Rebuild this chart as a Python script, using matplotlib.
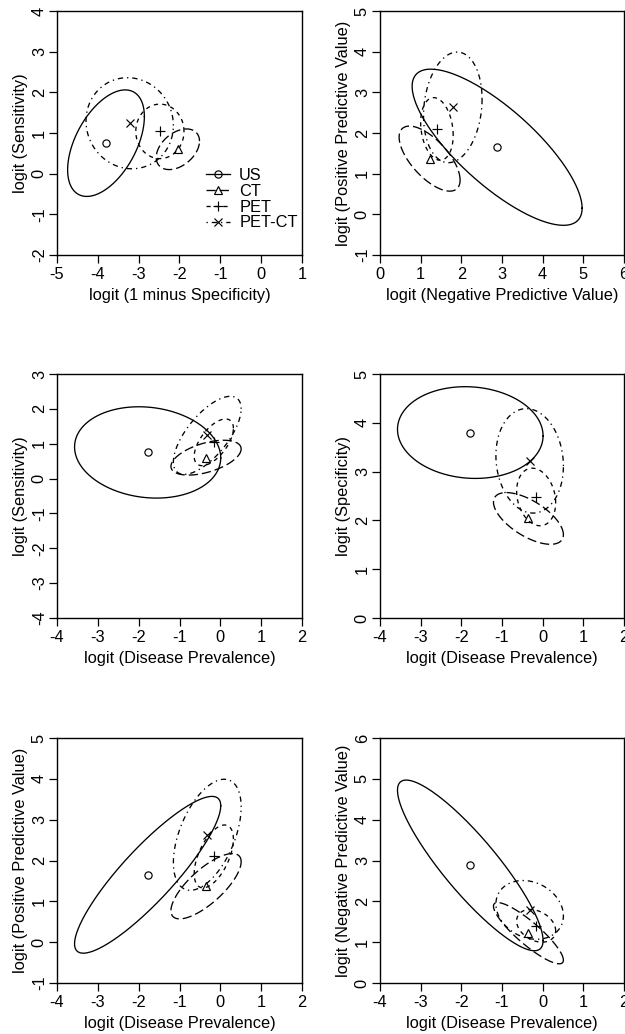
"""Bivariate confidence ellipses for US, CT, PET and PET-CT on the logit scale."""
import numpy as np
import matplotlib
matplotlib.use("Agg")
import matplotlib.pyplot as plt
from matplotlib.lines import Line2D

plt.rcParams['font.family'] = ['Liberation Sans', 'DejaVu Sans']
plt.rcParams['font.size'] = 11.8

# ------------------------------------------------------------
# Summary estimates (logit scale): point estimate and half-range of the
# 95% region along each axis, plus the correlation for each pair plotted
# ------------------------------------------------------------
tests = ['US', 'CT', 'PET', 'PET-CT']

sens_mid = [0.75, 0.60, 1.04, 1.24]
sens_half = [1.31, 0.50, 0.67, 1.12]
spec_mid = [3.80, 2.04, 2.48, 3.22]
spec_half = [0.94, 0.53, 0.59, 1.07]
prev_mid = [-1.78, -0.35, -0.16, -0.32]
prev_half = [1.79, 0.86, 0.48, 0.83]
ppv_mid = [1.65, 1.37, 2.10, 2.63]
ppv_half = [1.92, 0.80, 0.77, 1.36]
npv_mid = [2.88, 1.22, 1.40, 1.79]
npv_half = [2.09, 0.75, 0.40, 0.72]

r_fpr_sens = [0.50, 0.40, 0.00, -0.05]
r_npv_ppv = [-0.78, -0.66, -0.20, 0.15]
r_prev_sens = [-0.12, 0.50, 0.60, 0.68]
r_prev_spec = [-0.07, -0.63, -0.20, -0.10]
r_prev_ppv = [0.88, 0.75, 0.55, 0.50]
r_prev_npv = [-0.88, -0.88, -0.30, -0.20]

# logit(1 - specificity) is just the negated logit specificity
fpr_mid = [-v for v in spec_mid]
fpr_half = spec_half

variables = {
    'fpr': (fpr_mid, fpr_half),
    'sens': (sens_mid, sens_half),
    'spec': (spec_mid, spec_half),
    'prev': (prev_mid, prev_half),
    'ppv': (ppv_mid, ppv_half),
    'npv': (npv_mid, npv_half),
}

# (x var, y var, correlations, x label, y label, x range, y range)
panels = [
    ('fpr', 'sens', r_fpr_sens, 'logit (1 minus Specificity)', 'logit (Sensitivity)', (-5, 1), (-2, 4)),
    ('npv', 'ppv', r_npv_ppv, 'logit (Negative Predictive Value)', 'logit (Positive Predictive Value)', (0, 6), (-1, 5)),
    ('prev', 'sens', r_prev_sens, 'logit (Disease Prevalence)', 'logit (Sensitivity)', (-4, 2), (-4, 3)),
    ('prev', 'spec', r_prev_spec, 'logit (Disease Prevalence)', 'logit (Specificity)', (-4, 2), (0, 5)),
    ('prev', 'ppv', r_prev_ppv, 'logit (Disease Prevalence)', 'logit (Positive Predictive Value)', (-4, 2), (-1, 5)),
    ('prev', 'npv', r_prev_npv, 'logit (Disease Prevalence)', 'logit (Negative Predictive Value)', (-4, 2), (0, 6)),
]

markers = ['o', '^', '+', 'x']
msizes = [5.2, 6.0, 7.5, 6.0]
styles = ['-', (0, (7, 3)), (0, (3.2, 3.2)), (0, (1, 3, 4, 3))]

W, H = 625, 1034
fig = plt.figure(figsize=(W / 100, H / 100), dpi=100)

# plot regions in pixels: (left, top, right, bottom)
boxes = [
    (57, 11, 302, 255), (380, 11, 624, 255),
    (57, 374, 302, 618), (380, 374, 624, 618),
    (57, 738, 302, 983), (380, 738, 624, 983),
]

t = np.linspace(0, 2 * np.pi, 400)


def ellipse(cx, cy, hx, hy, r):
    x = cx + hx * np.cos(t)
    y = cy + hy * (r * np.cos(t) + np.sqrt(1 - r * r) * np.sin(t))
    return x, y


for k, (xv, yv, corr, xlab, ylab, xlim, ylim) in enumerate(panels):
    l, tp, rt, b = boxes[k]
    ax = fig.add_axes([l / W, 1 - b / H, (rt - l) / W, (b - tp) / H])
    xm, xh = variables[xv]
    ym, yh = variables[yv]
    for i in range(len(tests)):
        ex, ey = ellipse(xm[i], ym[i], xh[i], yh[i], corr[i])
        ax.plot(ex, ey, color='black', lw=0.95, linestyle=styles[i])
    for i in range(len(tests)):
        ax.plot(xm[i], ym[i], linestyle='none', marker=markers[i], ms=msizes[i],
                mfc='none', mec='black', mew=0.85)

    ax.set_xlim(*xlim)
    ax.set_ylim(*ylim)
    xt = np.arange(xlim[0], xlim[1] + 1)
    yt = np.arange(ylim[0], ylim[1] + 1)
    ax.set_xticks(xt)
    ax.set_xticklabels([str(v) for v in xt])
    ax.set_yticks(yt)
    ax.set_yticklabels([str(v) for v in yt], rotation=90, va='center')
    ax.tick_params(direction='out', length=5.8, width=0.9, pad=2.5, color='black')
    ax.tick_params(axis='y', pad=1.5)
    for s in ax.spines.values():
        s.set_linewidth(1.0)
    ax.set_xlabel(xlab, va='center')
    ax.set_ylabel(ylab, va='center')
    ax.xaxis.set_label_coords(0.5, -0.165)
    ax.yaxis.set_label_coords(-0.148, 0.5)

    if k == 0:
        handles = [Line2D([], [], color='black', lw=0.95, linestyle=styles[i],
                          marker=markers[i], ms=msizes[i], mfc='none', mec='black', mew=0.85)
                   for i in range(len(tests))]
        ax.legend(handles, tests, loc='upper left', bbox_to_anchor=(0.61, 0.357),
                  frameon=False, handlelength=1.45, handletextpad=0.55,
                  labelspacing=0.05, borderpad=0, borderaxespad=0, numpoints=1)

fig.savefig('out.png', dpi=100)
